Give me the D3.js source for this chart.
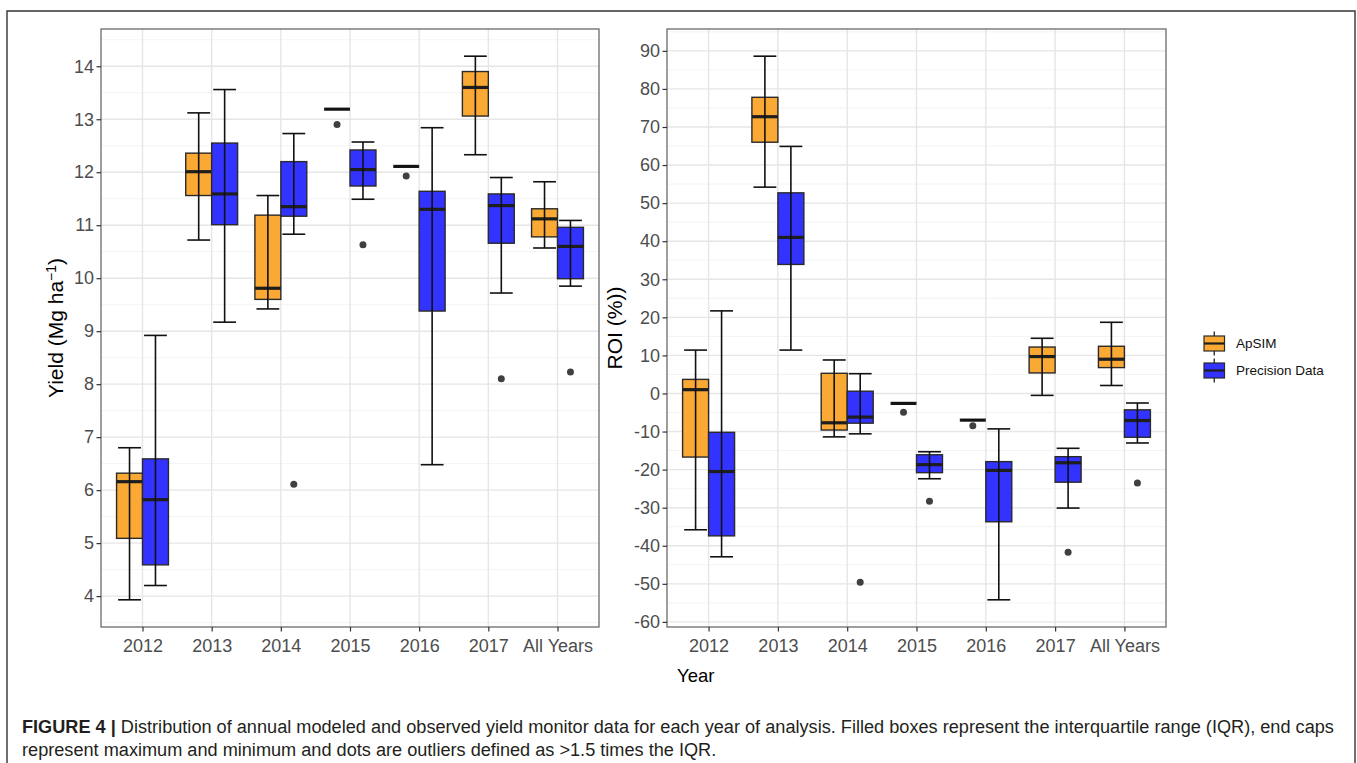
<!DOCTYPE html>
<html>
<head>
<meta charset="utf-8">
<script src="https://cdn.jsdelivr.net/npm/d3@7"></script>
<style>
  body { margin: 0; background: #fff; }
  svg { display: block; }
  text { font-family: "Liberation Sans", Arial, Helvetica, sans-serif; }
</style>
</head>
<body>
<svg id="fig" width="1357" height="763"></svg>
<script>
// Categories and series
const years = ["2012", "2013", "2014", "2015", "2016", "2017", "All Years"];
const groups = ["ApSIM", "Precision Data"];
const groupColors = ["#FBA935", "#3333FF"];

// Five-number summaries [min, q1, median, q3, max] per year
const yieldApsim = [
  [3.93, 5.09, 6.16, 6.32, 6.80],
  [10.72, 11.56, 12.01, 12.36, 13.12],
  [9.42, 9.60, 9.81, 11.19, 11.56],
  [13.19, 13.19, 13.19, 13.19, 13.19],
  [12.11, 12.11, 12.11, 12.11, 12.11],
  [12.33, 13.06, 13.60, 13.90, 14.19],
  [10.57, 10.78, 11.12, 11.31, 11.82]
];
const yieldApsimOutliers = [[], [], [], [12.90], [11.93], [], []];

const yieldPrecision = [
  [4.20, 4.59, 5.82, 6.59, 8.92],
  [9.17, 11.01, 11.59, 12.55, 13.56],
  [10.83, 11.17, 11.35, 12.20, 12.73],
  [11.49, 11.74, 12.05, 12.42, 12.57],
  [6.48, 9.38, 11.30, 11.64, 12.84],
  [9.72, 10.66, 11.37, 11.59, 11.90],
  [9.85, 9.99, 10.60, 10.96, 11.09]
];
const yieldPrecisionOutliers = [[], [], [6.11], [10.63], [], [8.10], [8.23]];

const roiApsim = [
  [-35.8, -16.7, 1.0, 3.7, 11.4],
  [54.2, 66.0, 72.7, 77.8, 88.6],
  [-11.4, -9.6, -7.7, 5.3, 8.8],
  [-2.6, -2.6, -2.6, -2.6, -2.6],
  [-7.0, -7.0, -7.0, -7.0, -7.0],
  [-0.5, 5.4, 9.7, 12.2, 14.5],
  [2.1, 6.8, 9.0, 12.4, 18.7]
];
const roiApsimOutliers = [[], [], [], [-4.9], [-8.5], [], []];

const roiPrecision = [
  [-42.9, -37.4, -20.5, -10.2, 21.7],
  [11.4, 33.9, 41.0, 52.7, 64.9],
  [-10.6, -7.8, -6.2, 0.6, 5.2],
  [-22.4, -20.8, -18.7, -16.1, -15.3],
  [-54.2, -33.7, -20.2, -17.9, -9.3],
  [-30.1, -23.3, -18.2, -16.6, -14.4],
  [-13.0, -11.5, -7.1, -4.3, -2.5]
];
const roiPrecisionOutliers = [[], [], [-49.6], [-28.3], [], [-41.7], [-23.5]];

// Tick values
const yieldTicks = [4, 5, 6, 7, 8, 9, 10, 11, 12, 13, 14];
const roiTicks = [-60, -50, -40, -30, -20, -10, 0, 10, 20, 30, 40, 50, 60, 70, 80, 90];

const captionBold = "FIGURE 4 | ";
const captionLine1 = "Distribution of annual modeled and observed yield monitor data for each year of analysis. Filled boxes represent the interquartile range (IQR), end caps";
const captionLine2 = "represent maximum and minimum and dots are outliers defined as >1.5 times the IQR.";

const svg = d3.select("#fig");

// Figure frame (open at the bottom edge of the page)
svg.append("path")
  .attr("d", "M7,763 V11 H1355 V763")
  .attr("fill", "none")
  .attr("stroke", "#333")
  .attr("stroke-width", 1.4);

function drawPanel(opts) {
  const { x0, x1, y0, y1, ticks, series } = opts;
  const g = svg.append("g");

  // data extent with 5% expansion on each side
  const allVals = [];
  series.forEach(s => {
    s.stats.forEach(r => allVals.push(...r));
    s.outliers.forEach(o => allVals.push(...o));
  });
  const lo = d3.min(allVals), hi = d3.max(allVals), pad = (hi - lo) * 0.05;

  const y = d3.scaleLinear().domain([lo - pad, hi + pad]).range([y1, y0]);
  const x = d3.scalePoint().domain(years).range([x0, x1]).padding(0.6);
  const step = x.step();
  const dodge = d3.scaleBand().domain(groups).range([-0.375 * step, 0.375 * step]);
  const bw = dodge.bandwidth();
  const capW = bw * 0.88;

  g.append("rect").attr("x", x0).attr("y", y0).attr("width", x1 - x0).attr("height", y1 - y0)
    .attr("fill", "#fff");

  // minor gridlines halfway between major ticks
  const half = (ticks[1] - ticks[0]) / 2;
  const minor = [ticks[0] - half, ...ticks.map(t => t + half)]
    .filter(v => v > y.domain()[0] && v < y.domain()[1]);
  g.selectAll("line.minor").data(minor).join("line")
    .attr("x1", x0).attr("x2", x1)
    .attr("y1", d => y(d)).attr("y2", d => y(d))
    .attr("stroke", "#f0f0f0").attr("stroke-width", 0.8);

  g.selectAll("line.hmaj").data(ticks).join("line")
    .attr("x1", x0).attr("x2", x1)
    .attr("y1", d => y(d)).attr("y2", d => y(d))
    .attr("stroke", "#e6e6e6").attr("stroke-width", 1.4);

  g.selectAll("line.vmaj").data(years).join("line")
    .attr("x1", d => x(d)).attr("x2", d => x(d))
    .attr("y1", y0).attr("y2", y1)
    .attr("stroke", "#e6e6e6").attr("stroke-width", 1.4);

  series.forEach((s, si) => {
    const color = groupColors[si];
    years.forEach((yr, i) => {
      const [mn, q1, md, q3, mx] = s.stats[i];
      const cx = x(yr) + dodge(groups[si]) + bw / 2;
      const bg = g.append("g");
      bg.append("rect")
        .attr("x", cx - bw / 2).attr("y", y(q3))
        .attr("width", bw).attr("height", Math.max(0, y(q1) - y(q3)))
        .attr("fill", color)
        .attr("stroke", "#2a2a2a").attr("stroke-width", 1.4);
      bg.append("line")
        .attr("x1", cx - bw / 2).attr("x2", cx + bw / 2)
        .attr("y1", y(md)).attr("y2", y(md))
        .attr("stroke", "#1e1e1e").attr("stroke-width", 3.2);
      // whisker and end caps
      bg.append("line")
        .attr("x1", cx).attr("x2", cx).attr("y1", y(mn)).attr("y2", y(mx))
        .attr("stroke", "#111").attr("stroke-width", 1.6);
      [mn, mx].forEach(v => {
        bg.append("line")
          .attr("x1", cx - capW / 2).attr("x2", cx + capW / 2)
          .attr("y1", y(v)).attr("y2", y(v))
          .attr("stroke", "#111").attr("stroke-width", 1.6);
      });
      s.outliers[i].forEach(v => {
        bg.append("circle").attr("cx", cx).attr("cy", y(v)).attr("r", 3.5)
          .attr("fill", "#404040");
      });
    });
  });

  g.append("rect").attr("x", x0).attr("y", y0).attr("width", x1 - x0).attr("height", y1 - y0)
    .attr("fill", "none").attr("stroke", "#6a6a6a").attr("stroke-width", 1.3);

  // axes
  const ya = g.append("g").attr("transform", `translate(${x0},0)`)
    .call(d3.axisLeft(y).tickValues(ticks).tickSize(4.5).tickPadding(2.5).tickFormat(d => String(d)));
  const xa = g.append("g").attr("transform", `translate(0,${y1})`)
    .call(d3.axisBottom(x).tickSize(4.5).tickPadding(7.5));
  [ya, xa].forEach(a => {
    a.select(".domain").remove();
    a.selectAll(".tick line").attr("stroke", "#333").attr("stroke-width", 1.2);
    a.selectAll(".tick text").attr("fill", "#4d4d4d").attr("font-size", 18)
      .attr("font-family", "'Liberation Sans', Arial, sans-serif");
  });
  return { x, y };
}

drawPanel({
  x0: 101, x1: 599, y0: 29, y1: 627, ticks: yieldTicks,
  series: [
    { stats: yieldApsim, outliers: yieldApsimOutliers },
    { stats: yieldPrecision, outliers: yieldPrecisionOutliers }
  ]
});

drawPanel({
  x0: 667, x1: 1166, y0: 29, y1: 627, ticks: roiTicks,
  series: [
    { stats: roiApsim, outliers: roiApsimOutliers },
    { stats: roiPrecision, outliers: roiPrecisionOutliers }
  ]
});

// axis titles
const yt = svg.append("text")
  .attr("transform", "translate(56,328) rotate(-90)")
  .attr("text-anchor", "middle").attr("dy", "0.35em")
  .attr("font-size", 21).attr("fill", "#000");
yt.append("tspan").text("Yield (Mg ha");
yt.append("tspan").attr("font-size", 14).attr("dy", "-0.55em").text("\u22121");
yt.append("tspan").attr("dy", "0.36em").text(")");

svg.append("text")
  .attr("transform", "translate(615,328) rotate(-90)")
  .attr("text-anchor", "middle").attr("dy", "0.35em")
  .attr("font-size", 21).attr("fill", "#000")
  .text("ROI (%))");

svg.append("text")
  .attr("x", 677).attr("y", 682)
  .attr("font-size", 18.5).attr("fill", "#000")
  .text("Year");

// legend
const legend = svg.append("g");
groups.forEach((name, i) => {
  const cy = 343.5 + i * 27;
  const kx0 = 1204, kx1 = 1224.5, kc = (kx0 + kx1) / 2;
  legend.append("line").attr("x1", kc).attr("x2", kc).attr("y1", cy - 12).attr("y2", cy + 12)
    .attr("stroke", "#222").attr("stroke-width", 1.3);
  legend.append("rect").attr("x", kx0).attr("y", cy - 7.5).attr("width", kx1 - kx0).attr("height", 15)
    .attr("fill", groupColors[i]).attr("stroke", "#2a2a2a").attr("stroke-width", 1.2);
  legend.append("line").attr("x1", kx0).attr("x2", kx1).attr("y1", cy).attr("y2", cy)
    .attr("stroke", "#1e1e1e").attr("stroke-width", 2.2);
  legend.append("text").attr("x", 1236).attr("y", cy).attr("dy", "0.35em")
    .attr("font-size", 13.5).attr("fill", "#111").text(name);
});

// caption, sized so the first line spans the frame width
const cap1 = svg.append("text").attr("x", 22).attr("y", 733).attr("font-size", 15).attr("fill", "#231f20");
cap1.append("tspan").attr("font-weight", "bold").text(captionBold);
cap1.append("tspan").text(captionLine1);
const w = cap1.node().getComputedTextLength();
const fs = 15 * (1313 / w);
cap1.attr("font-size", fs);
svg.append("text").attr("x", 22).attr("y", 756).attr("font-size", fs).attr("fill", "#231f20")
  .text(captionLine2);
</script>
</body>
</html>
